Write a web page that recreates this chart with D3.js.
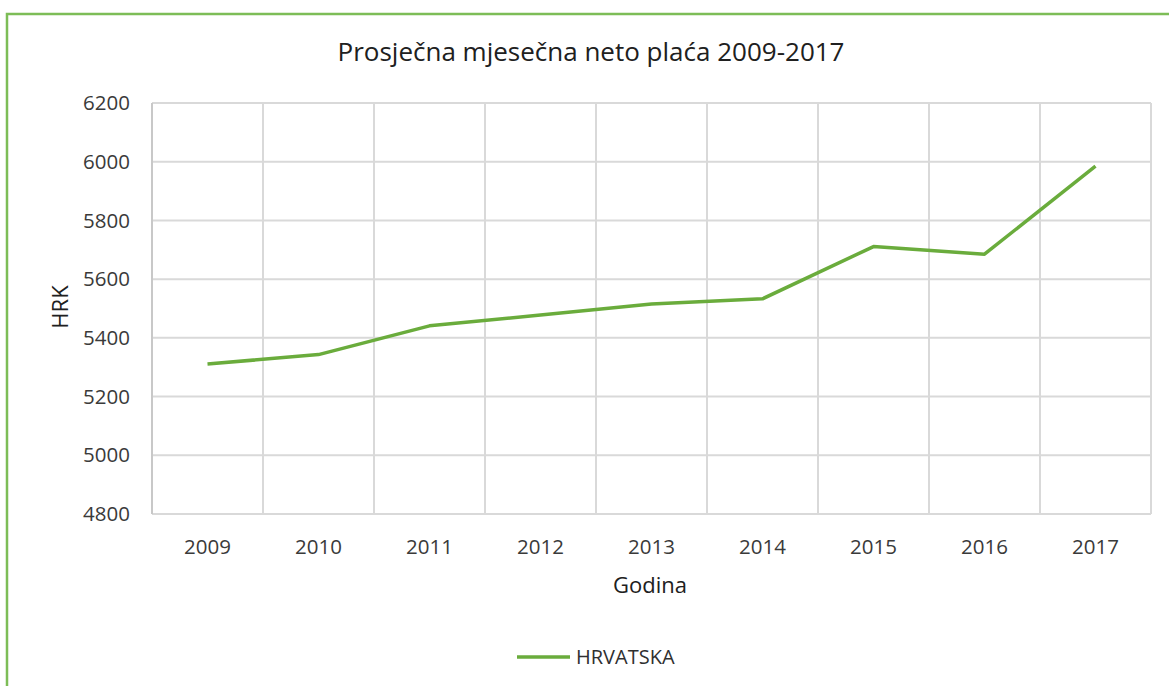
<!DOCTYPE html>
<html>
<head>
<meta charset="utf-8">
<script src="https://cdn.jsdelivr.net/npm/d3@7"></script>
<style>
  body { margin: 0; background: #fff; }
  svg { display: block; font-family: 'Open Sans', sans-serif; }
</style>
</head>
<body>
<svg id="chart" width="1169" height="686"></svg>
<script>
const years = ['2009', '2010', '2011', '2012', '2013', '2014', '2015', '2016', '2017'];
const hrvatska = [5311, 5343, 5441, 5478, 5515, 5533, 5711, 5685, 5985];
const yTicks = [4800, 5000, 5200, 5400, 5600, 5800, 6000, 6200];

const svg = d3.select('#chart');
const margin = { left: 152, right: 18, top: 103, bottom: 172 };
const w = 1169, h = 686;

// outer frame
svg.append('rect')
  .attr('x', 7).attr('y', 14)
  .attr('width', w + 10).attr('height', h + 10)
  .attr('fill', 'none').attr('stroke', '#7dbd57').attr('stroke-width', 2.5);

const x = d3.scaleBand().domain(years).range([margin.left, w - margin.right]);
const y = d3.scaleLinear().domain([4800, 6200]).range([h - margin.bottom, margin.top]);

// horizontal gridlines
svg.append('g').selectAll('line.hgrid').data(yTicks).join('line')
  .classed('hgrid', true)
  .attr('x1', margin.left).attr('x2', w - margin.right)
  .attr('y1', (d) => y(d)).attr('y2', (d) => y(d))
  .attr('stroke', '#d9d9d9').attr('stroke-width', 2);

// vertical gridlines at category boundaries
const bounds = years.map((d) => x(d)).concat([x(years[years.length - 1]) + x.bandwidth()]);
svg.append('g').selectAll('line.vgrid').data(bounds).join('line')
  .classed('vgrid', true)
  .attr('x1', (d) => d).attr('x2', (d) => d)
  .attr('y1', y(6200)).attr('y2', y(4800))
  .attr('stroke', (d, i) => i === 0 ? '#c8c8c8' : '#d9d9d9').attr('stroke-width', 2);

// y tick labels
svg.append('g').selectAll('text').data(yTicks).join('text')
  .attr('x', 130).attr('y', (d) => y(d))
  .attr('dy', '0.35em').attr('text-anchor', 'end')
  .attr('font-size', 20.5).attr('fill', '#3a3a3a')
  .text((d) => d);

// x tick labels
svg.append('g').selectAll('text').data(years).join('text')
  .attr('x', (d) => x(d) + x.bandwidth() / 2).attr('y', 547)
  .attr('dy', '0.35em').attr('text-anchor', 'middle')
  .attr('font-size', 20.5).attr('fill', '#3a3a3a')
  .text((d) => d);

// line
const line = d3.line()
  .x((d, i) => x(years[i]) + x.bandwidth() / 2)
  .y((d) => y(d));

svg.append('path').datum(hrvatska)
  .attr('d', line)
  .attr('fill', 'none').attr('stroke', '#6aac3c').attr('stroke-width', 3.5)
  .attr('stroke-linejoin', 'round');

// title
svg.append('text')
  .attr('x', 591).attr('y', 52).attr('dy', '0.35em')
  .attr('text-anchor', 'middle').attr('font-size', 26).attr('fill', '#202020')
  .text('Prosječna mjesečna neto plaća 2009-2017');

// axis titles
svg.append('text')
  .attr('x', 650).attr('y', 585).attr('dy', '0.35em')
  .attr('text-anchor', 'middle').attr('font-size', 22).attr('fill', '#202020')
  .text('Godina');

svg.append('text')
  .attr('transform', 'translate(60,307) rotate(-90)')
  .attr('dy', '0.35em').attr('text-anchor', 'middle')
  .attr('font-size', 22).attr('fill', '#202020')
  .text('HRK');

// legend
svg.append('line')
  .attr('x1', 517).attr('x2', 570).attr('y1', 657).attr('y2', 657)
  .attr('stroke', '#6aac3c').attr('stroke-width', 3.5);
svg.append('text')
  .attr('x', 576).attr('y', 657).attr('dy', '0.35em')
  .attr('font-size', 20).attr('fill', '#303030')
  .text('HRVATSKA');
</script>
</body>
</html>
